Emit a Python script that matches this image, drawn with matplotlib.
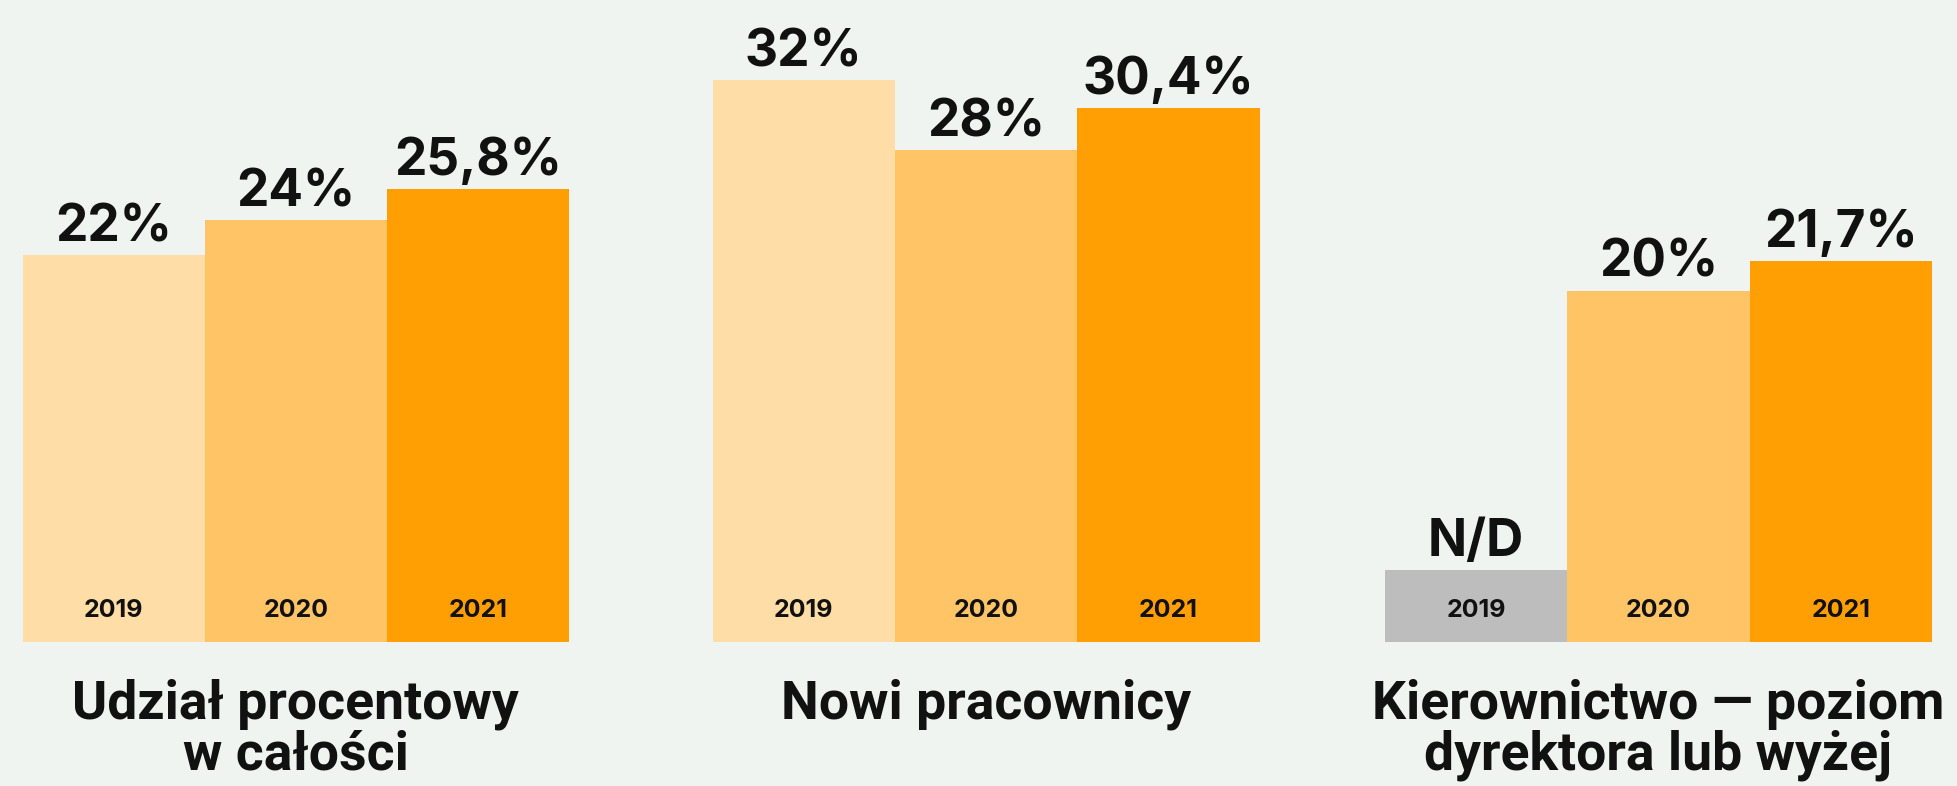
import matplotlib.pyplot as plt

# ============================================================
# DATA
# ============================================================

years = ['2019', '2020', '2021']
titles = [
    'Udział procentowy\nw całości',
    'Nowi pracownicy',
    'Kierownictwo — poziom\ndyrektora lub wyżej',
]
overall = [22, 24, 25.8]
new_hires = [32, 28, 30.4]
leadership = [None, 20, 21.7]   # 2019: no data (N/D)
value_labels = [
    ['22%', '24%', '25,8%'],
    ['32%', '28%', '30,4%'],
    ['N/D', '20%', '21,7%'],
]
ND_HEIGHT = 4.1   # height of the grey placeholder bar

# ============================================================
# STYLE
# ============================================================

BG = '#EFF4F0'
YEAR_COLORS = ['#FFDDA6', '#FFC466', '#FF9F04']
ND_COLOR = '#BDBDBD'
NUM_FONT = ['Inter', 'DejaVu Sans']
TITLE_FONT = ['Roboto', 'DejaVu Sans']

W, H = 1957, 786
fig = plt.figure(figsize=(W / 100, H / 100), dpi=100, facecolor=BG)

# panel positions in pixels (left, right), common baseline
panels_px = [(22.5, 569), (712.6, 1259.5), (1385, 1932)]
bottom_px = 641.5
px_per_unit = 17.55

series = [overall, new_hires, leadership]

for (x0, x1), vals, labels, title in zip(panels_px, series, value_labels, titles):
    ax = fig.add_axes([x0 / W, (H - bottom_px) / H, (x1 - x0) / W, bottom_px / H])
    ax.set_xlim(-0.5, 2.5)
    ax.set_ylim(0, bottom_px / px_per_unit)
    ax.axis('off')

    for i, (v, lab) in enumerate(zip(vals, labels)):
        if v is None:
            h, col = ND_HEIGHT, ND_COLOR
        else:
            h, col = v, YEAR_COLORS[i]
        ax.bar(i, h, width=1.0, color=col, linewidth=0)
        ax.annotate(lab, (i, h), xytext=(0, 10), textcoords='offset points',
                    ha='center', va='baseline', fontsize=37,
                    fontweight='bold', family=NUM_FONT, color='#111111')
        ax.annotate(years[i], (i, 0), xytext=(0, 17.5), textcoords='offset points',
                    ha='center', va='baseline', fontsize=18,
                    fontweight='bold', family=NUM_FONT, color='#111111')

    xc = (x0 + x1) / 2 / W
    fig.text(xc, (H - 679) / H, title, ha='center', va='top',
             fontsize=38.5, fontweight='bold', family=TITLE_FONT, color='#111111',
             linespacing=0.98, multialignment='center')

plt.savefig('out.png', dpi=100, facecolor=BG)
